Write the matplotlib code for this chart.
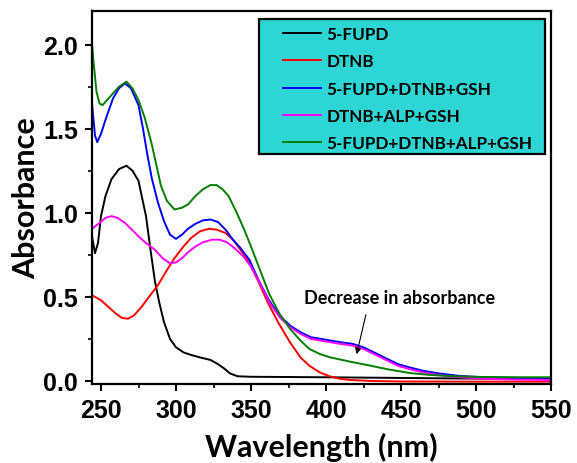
import numpy as np
import matplotlib
matplotlib.use("Agg")
import matplotlib.pyplot as plt
from matplotlib.patches import Rectangle

# --- data (wavelength nm, absorbance) ---
wl_fupd = [244, 246, 248, 250, 253, 257, 262, 267, 271, 275, 280, 283, 286, 289, 292, 296,
           300, 305, 310, 316, 323, 328, 332, 336, 341, 350, 400, 450, 500, 550]
ab_fupd = [0.86, 0.76, 0.82, 0.98, 1.10, 1.20, 1.26, 1.28, 1.25, 1.19, 0.98, 0.78, 0.59, 0.46, 0.35, 0.25,
           0.20, 0.17, 0.155, 0.14, 0.125, 0.10, 0.075, 0.045, 0.028, 0.025, 0.022, 0.018, 0.014, 0.012]

wl_dtnb = [244, 250, 255, 260, 264, 268, 272, 277, 282, 288, 294, 299, 305, 310, 316, 322, 327, 333,
           338, 343, 349, 355, 361, 368, 376, 383, 389, 396, 403, 410, 416, 430, 450, 500, 550]
ab_dtnb = [0.51, 0.48, 0.44, 0.40, 0.375, 0.37, 0.39, 0.44, 0.50, 0.57, 0.66, 0.73, 0.80, 0.85, 0.89, 0.905, 0.90, 0.88,
           0.84, 0.78, 0.70, 0.59, 0.47, 0.35, 0.23, 0.14, 0.09, 0.05, 0.026, 0.012, 0.006, 0.0, -0.003, -0.004, -0.004]

wl_mix1 = [244, 246, 247.5, 250, 254, 258, 262, 266, 270, 275, 278, 281, 284, 288, 292, 296, 300, 304, 308,
           313, 318, 323, 328, 333, 338, 343, 349, 355, 362, 369, 376, 383, 390, 400, 410, 418, 425, 432,
           440, 448, 456, 465, 475, 489, 509, 530, 550]
ab_mix1 = [1.65, 1.46, 1.42, 1.47, 1.58, 1.68, 1.74, 1.77, 1.74, 1.64, 1.50, 1.34, 1.20, 1.06, 0.95, 0.87, 0.845, 0.87, 0.905,
           0.935, 0.955, 0.96, 0.945, 0.90, 0.84, 0.79, 0.72, 0.60, 0.48, 0.39, 0.33, 0.29, 0.26, 0.245, 0.23, 0.22, 0.20, 0.17,
           0.135, 0.10, 0.08, 0.06, 0.045, 0.03, 0.02, 0.018, 0.016]

wl_mix2 = [244, 249, 253, 257, 261, 266, 270, 275, 280, 286, 291, 296, 300, 304, 308, 313, 318, 324, 329,
           334, 339, 345, 350, 356, 362, 369, 376, 383, 390, 400, 410, 418, 425, 432, 440, 448, 456, 465,
           475, 489, 509, 530, 550]
ab_mix2 = [0.905, 0.94, 0.97, 0.98, 0.97, 0.94, 0.905, 0.86, 0.82, 0.78, 0.73, 0.70, 0.705, 0.73, 0.765, 0.80, 0.825, 0.84, 0.84,
           0.825, 0.79, 0.74, 0.68, 0.58, 0.47, 0.38, 0.32, 0.28, 0.25, 0.235, 0.22, 0.21, 0.19, 0.16, 0.125, 0.09, 0.07, 0.05,
           0.035, 0.022, 0.012, 0.008, 0.006]

wl_mix3 = [244, 245, 247, 249, 251, 254, 258, 262, 267, 271, 275, 279, 283.5, 287, 290, 294, 299, 304, 308,
           313, 318, 323, 327, 331, 335, 340, 345, 350, 356, 362, 369, 376, 383, 389, 396, 403, 416, 429,
           442, 456, 469, 486, 503, 530, 550]
ab_mix3 = [2.00, 1.90, 1.72, 1.65, 1.64, 1.67, 1.71, 1.75, 1.78, 1.74, 1.67, 1.57, 1.42, 1.28, 1.16, 1.07, 1.02, 1.03, 1.05,
           1.10, 1.14, 1.165, 1.165, 1.14, 1.10, 1.01, 0.91, 0.80, 0.66, 0.52, 0.40, 0.31, 0.24, 0.19, 0.16, 0.14, 0.115, 0.092,
           0.068, 0.047, 0.036, 0.028, 0.024, 0.022, 0.022]

labels = ['5-FUPD', 'DTNB', '5-FUPD+DTNB+GSH', 'DTNB+ALP+GSH', '5-FUPD+DTNB+ALP+GSH']
colors = ['black', 'red', 'blue', '#ff00ff', 'green']

# tick labels in an Arial-like bold face
plt.rcParams['font.family'] = 'Liberation Sans'
plt.rcParams['font.weight'] = 'bold'

# --- figure ---
fig = plt.figure(figsize=(5.77, 4.64), dpi=100)
W, H = 577, 464
ax = fig.add_axes([92 / W, 1 - 385 / H, (551 - 92) / W, (385 - 12) / H])

series = [(wl_fupd, ab_fupd), (wl_dtnb, ab_dtnb), (wl_mix1, ab_mix1), (wl_mix2, ab_mix2), (wl_mix3, ab_mix3)]
for (x, y), lab, c in zip(series, labels, colors):
    ax.plot(x, y, color=c, lw=1.4, label=lab)

ax.set_xlim(244, 550)
ax.set_ylim(-0.018, 2.2)
ax.set_xticks(np.arange(250, 551, 50))
ax.set_xticks(np.arange(275, 551, 50), minor=True)
ax.set_yticks([0.0, 0.5, 1.0, 1.5, 2.0])
ax.set_yticks([0.25, 0.75, 1.25, 1.75], minor=True)
ax.set_yticklabels(['0.0', '0.5', '1.0', '1.5', '2.0'])

ax.tick_params(which='major', direction='out', length=5, width=1.5, pad=5, labelsize=18)
ax.tick_params(which='minor', direction='out', length=3, width=1.2)
for s in ax.spines.values():
    s.set_linewidth(1.6)

ax.set_xlabel('Wavelength (nm)', family='Lato', weight='bold', size=22, labelpad=7)
ax.set_ylabel('Absorbance', family='Lato', weight='bold', size=22, labelpad=2)

# legend box
box = Rectangle((259 / W, 1 - 155 / H), (545 - 259) / W, (155 - 20) / H, transform=fig.transFigure,
                facecolor='#2ed5d5', edgecolor='black', lw=1.6, zorder=4, clip_on=False)
ax.add_patch(box)
leg = ax.legend(loc='upper left', bbox_to_anchor=(283 / W, 1 - 27 / H), bbox_transform=fig.transFigure,
                frameon=False, borderpad=0, borderaxespad=0, handlelength=2.25, handletextpad=0.3,
                labelspacing=0.66, prop=dict(family='Lato', weight='bold', size=12.3))
leg.set_zorder(6)

# annotation
ax.text(449, 0.494, 'Decrease in absorbance', ha='center', va='center',
        family='Lato', weight='bold', size=13)
ax.annotate('', xy=(420, 0.143), xytext=(427, 0.41),
            arrowprops=dict(arrowstyle='-|>', color='black', lw=0.8, mutation_scale=9))

fig.savefig('out.png', dpi=100)
